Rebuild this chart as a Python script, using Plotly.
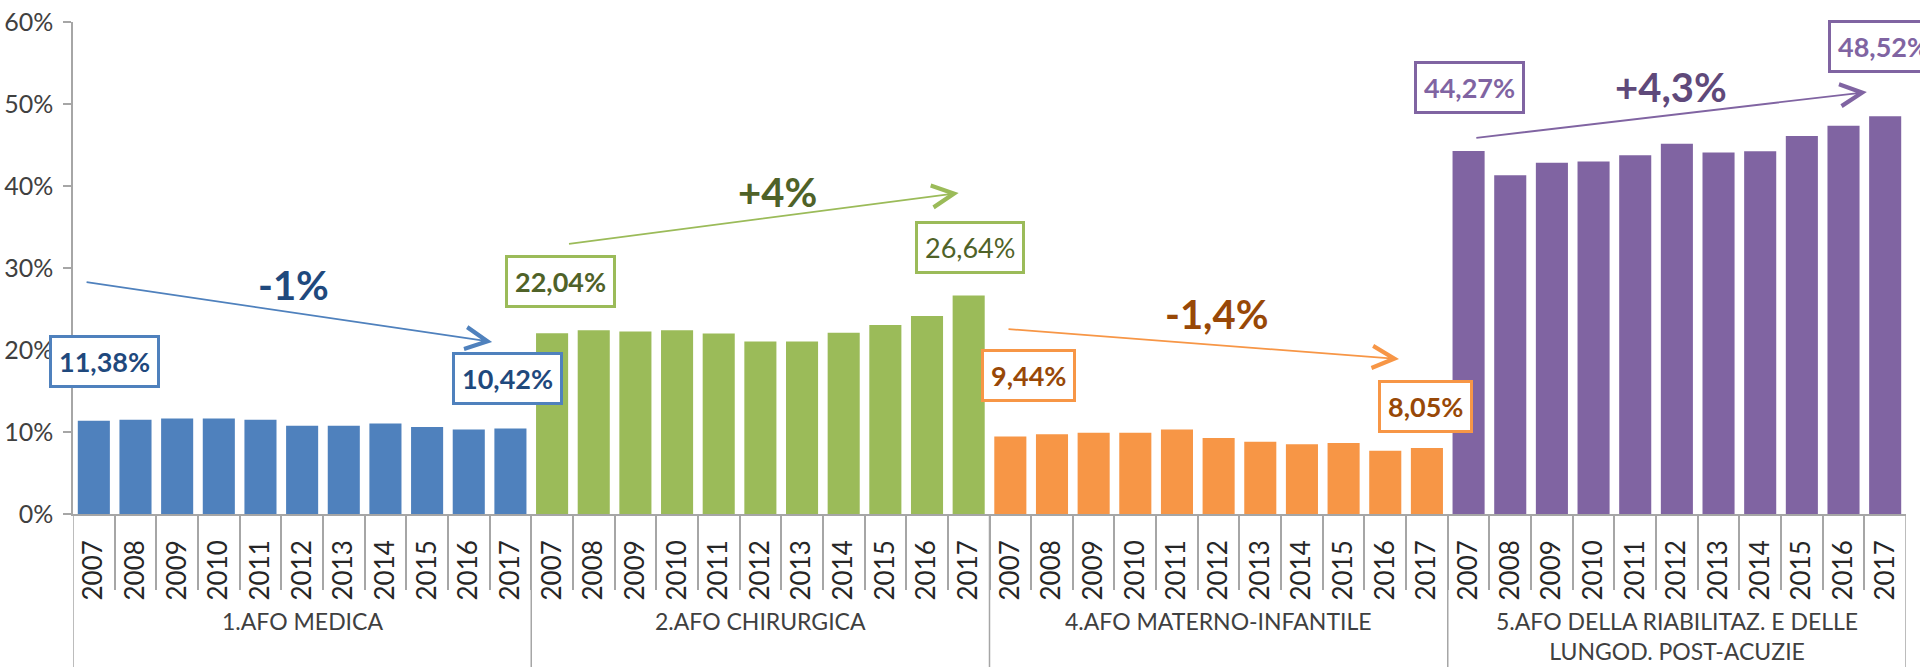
import plotly.graph_objects as go

# ---------------- data ----------------
years = ["2007", "2008", "2009", "2010", "2011", "2012", "2013", "2014", "2015", "2016", "2017"]
groups = ["1.AFO MEDICA", "2.AFO CHIRURGICA", "4.AFO MATERNO-INFANTILE",
          "5.AFO DELLA RIABILITAZ. E DELLE<br>LUNGOD. POST-ACUZIE"]
medica = [11.38, 11.50, 11.65, 11.65, 11.50, 10.75, 10.75, 11.05, 10.60, 10.30, 10.42]
chirurgica = [22.04, 22.40, 22.25, 22.40, 22.00, 21.05, 21.05, 22.10, 23.05, 24.15, 26.64]
materno = [9.44, 9.74, 9.90, 9.90, 10.30, 9.27, 8.80, 8.50, 8.65, 7.72, 8.05]
riabilitaz = [44.27, 41.30, 42.85, 43.00, 43.75, 45.15, 44.10, 44.25, 46.10, 47.35, 48.52]
trend_labels = ["-1%", "+4%", "-1,4%", "+4,3%"]

series = [medica, chirurgica, materno, riabilitaz]

# ---------------- styles ----------------
bar_colors = ["#4F81BD", "#9BBB59", "#F79646", "#8064A2"]
label_text_colors = ["#1F497D", "#4F6228", "#984807", "#8064A2"]
trend_text_colors = ["#1F497D", "#4F6228", "#984807", "#5F497A"]
axis_gray = "#A6A6A6"
FONT = "Lato, 'Open Sans', sans-serif"

# value box placement offsets (pixels) : (first dx, first dy, last dx, last dy)
box_offsets = [(11, 59, -3, 50), (8, 52, 1, 48), (18, 61, -1, 41), (1, 63, -57, 70)]
last_bold = [True, False, True, True]
# trend arrows in data units (tail x, tail y, head x, head y) and text position
arrows = [(-0.21, 28.3, 9.56, 20.98), (11.37, 32.93, 20.76, 39.15),
          (21.92, 22.56, 31.33, 18.90), (33.15, 45.85, 42.56, 51.46)]
trend_pos = [(4.80, 27.9), (16.42, 39.3), (26.96, 24.4), (37.86, 52.1)]

n = len(years)
fig = go.Figure()
tickvals, ticktext = [], []
annotations = []
shapes = []

for g, vals in enumerate(series):
    xs = [g * n + i for i in range(n)]
    tickvals += xs
    ticktext += years
    fig.add_trace(go.Bar(x=xs, y=vals, marker=dict(color=bar_colors[g], line=dict(width=0)),
                         showlegend=False, hoverinfo="y"))
    # value boxes for first and last year
    fdx, fdy, ldx, ldy = box_offsets[g]
    for idx, dx, dy, bold, anch in [(0, fdx, fdy, True, "center"),
                                     (n - 1, ldx, ldy, last_bold[g], "left" if g == 3 else "center")]:
        txt = f"{vals[idx]:.2f}".replace(".", ",") + "%"
        if bold:
            txt = "<b>" + txt + "</b>"
        annotations.append(dict(
            x=xs[idx], y=vals[idx], xref="x", yref="y", text=txt, showarrow=False,
            xanchor=anch, yanchor="middle", xshift=dx, yshift=dy,
            font=dict(family=FONT, size=27, color=label_text_colors[g]),
            bordercolor=bar_colors[g], borderwidth=3, borderpad=7, bgcolor="white"))
    # trend arrow
    ax_, ay_, hx, hy = arrows[g]
    annotations.append(dict(
        x=hx, y=hy, ax=ax_, ay=ay_, xref="x", yref="y", axref="x", ayref="y",
        text="", showarrow=True, arrowhead=5, arrowsize=2.4, arrowwidth=1.8,
        arrowcolor=bar_colors[g], standoff=0, startstandoff=0))
    tx, ty = trend_pos[g]
    annotations.append(dict(
        x=tx, y=ty, xref="x", yref="y", text="<b>" + trend_labels[g] + "</b>",
        showarrow=False, xanchor="center", yanchor="middle",
        font=dict(family=FONT, size=40, color=trend_text_colors[g])))
    # group label
    annotations.append(dict(
        x=g * n + (n - 1) / 2, y=-0.185, xref="x", yref="paper", text=groups[g],
        showarrow=False, xanchor="center", yanchor="top",
        font=dict(family=FONT, size=23, color="#404040")))

# group dividers below the axis
total = n * len(series)
for b in range(len(series) + 1):
    xb = b * n - 0.5
    shapes.append(dict(type="line", xref="x", yref="paper", x0=xb, x1=xb, y0=0, y1=-0.35,
                       line=dict(color=axis_gray, width=1.5)))

fig.update_layout(
    width=1920, height=667,
    margin=dict(l=73, r=14, t=22, b=153, autoexpand=False),
    paper_bgcolor="white", plot_bgcolor="white",
    barmode="overlay", bargap=0.23,
    font=dict(family=FONT, size=23, color="#404040"),
    annotations=annotations, shapes=shapes,
    xaxis=dict(
        automargin=False,
        range=[-0.5, total - 0.5], tickmode="array", tickvals=tickvals, ticktext=ticktext,
        tickangle=-90, ticks="", showline=True, linecolor=axis_gray, linewidth=1.5,
        showgrid=False, zeroline=False, ticklabelstandoff=14,
        tickfont=dict(family=FONT, size=26, color="#262626"),
        minor=dict(tickmode="array", tickvals=[i + 0.5 for i in range(total - 1)],
                   ticks="outside", ticklen=74, tickcolor=axis_gray, tickwidth=1.5, showgrid=False)),
    yaxis=dict(
        automargin=False,
        range=[0, 60], tickmode="linear", tick0=0, dtick=10, ticksuffix="%",
        showline=True, linecolor=axis_gray, linewidth=1.5, ticks="outside", ticklen=8,
        tickcolor=axis_gray, tickwidth=1.5, showgrid=False, zeroline=False,
        ticklabelstandoff=5, tickfont=dict(family=FONT, size=25, color="#404040")),
)

fig.write_html("out.html", config={"displayModeBar": False},
               post_script="document.body.style.margin='0';document.body.style.overflow='hidden';")
